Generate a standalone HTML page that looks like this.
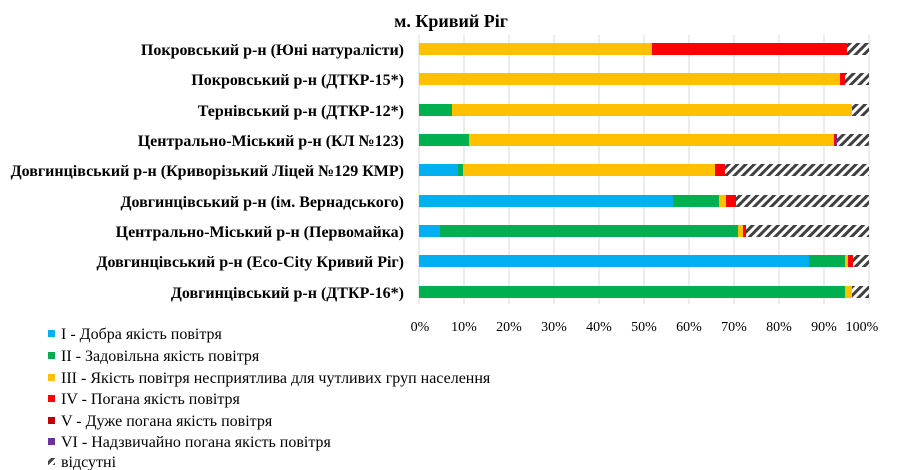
<!DOCTYPE html>
<html><head><meta charset="utf-8"><style>
body{margin:0;background:#fff;}
svg{display:block;font-family:"Liberation Serif","DejaVu Serif",serif;}
</style></head><body>
<svg width="897" height="470" viewBox="0 0 897 470" xmlns="http://www.w3.org/2000/svg">
<defs>
<pattern id="h" patternUnits="userSpaceOnUse" width="6" height="6" patternTransform="rotate(45)">
<rect width="6" height="6" fill="#fff"/><rect width="3" height="6" fill="#404040"/>
</pattern>
</defs>
<rect width="897" height="470" fill="#fff"/>
<text x="451" y="27" text-anchor="middle" font-size="18" font-weight="bold">м. Кривий Ріг</text>
<g stroke="#d9d9d9" stroke-width="1">
<line x1="419" y1="35" x2="419" y2="304"/><line x1="464" y1="35" x2="464" y2="304"/><line x1="509" y1="35" x2="509" y2="304"/><line x1="554" y1="35" x2="554" y2="304"/><line x1="599" y1="35" x2="599" y2="304"/><line x1="644" y1="35" x2="644" y2="304"/><line x1="689" y1="35" x2="689" y2="304"/><line x1="734" y1="35" x2="734" y2="304"/><line x1="779" y1="35" x2="779" y2="304"/><line x1="824" y1="35" x2="824" y2="304"/><line x1="869" y1="35" x2="869" y2="304"/>
</g>
<g>
<rect x="419" y="43" width="233" height="12" fill="#ffc000"/><rect x="652" y="43" width="195" height="12" fill="#ff0000"/><rect x="847" y="43" width="22" height="12" fill="url(#h)"/>
<rect x="419" y="73" width="421" height="12" fill="#ffc000"/><rect x="840" y="73" width="5" height="12" fill="#ff0000"/><rect x="845" y="73" width="24" height="12" fill="url(#h)"/>
<rect x="419" y="104" width="33" height="12" fill="#00b050"/><rect x="452" y="104" width="400" height="12" fill="#ffc000"/><rect x="852" y="104" width="17" height="12" fill="url(#h)"/>
<rect x="419" y="134" width="50" height="12" fill="#00b050"/><rect x="469" y="134" width="365" height="12" fill="#ffc000"/><rect x="834" y="134" width="2" height="12" fill="#ff0000"/><rect x="836" y="134" width="1" height="12" fill="#7030a0"/><rect x="837" y="134" width="32" height="12" fill="url(#h)"/>
<rect x="419" y="164" width="39" height="12" fill="#00b0f0"/><rect x="458" y="164" width="5" height="12" fill="#00b050"/><rect x="463" y="164" width="252" height="12" fill="#ffc000"/><rect x="715" y="164" width="10" height="12" fill="#ff0000"/><rect x="725" y="164" width="144" height="12" fill="url(#h)"/>
<rect x="419" y="195" width="254" height="12" fill="#00b0f0"/><rect x="673" y="195" width="46" height="12" fill="#00b050"/><rect x="719" y="195" width="7" height="12" fill="#ffc000"/><rect x="726" y="195" width="10" height="12" fill="#ff0000"/><rect x="736" y="195" width="133" height="12" fill="url(#h)"/>
<rect x="419" y="225" width="21" height="12" fill="#00b0f0"/><rect x="440" y="225" width="298" height="12" fill="#00b050"/><rect x="738" y="225" width="5" height="12" fill="#ffc000"/><rect x="743" y="225" width="3" height="12" fill="#ff0000"/><rect x="746" y="225" width="123" height="12" fill="url(#h)"/>
<rect x="419" y="255" width="390" height="12" fill="#00b0f0"/><rect x="809" y="255" width="36" height="12" fill="#00b050"/><rect x="845" y="255" width="3" height="12" fill="#ffc000"/><rect x="848" y="255" width="5" height="12" fill="#ff0000"/><rect x="853" y="255" width="16" height="12" fill="url(#h)"/>
<rect x="419" y="286" width="426" height="12" fill="#00b050"/><rect x="845" y="286" width="7" height="12" fill="#ffc000"/><rect x="852" y="286" width="17" height="12" fill="url(#h)"/>
</g>
<g font-size="16" font-weight="bold" text-anchor="end">
<text x="404" y="55">Покровський р-н (Юні натуралісти)</text>
<text x="404" y="85">Покровський р-н (ДТКР-15*)</text>
<text x="404" y="116">Тернівський  р-н (ДТКР-12*)</text>
<text x="404" y="146">Центрально-Міський  р-н (КЛ №123)</text>
<text x="404" y="176">Довгинцівський р-н (Криворізький  Ліцей №129 КМР)</text>
<text x="404" y="207">Довгинцівський р-н (ім. Вернадського)</text>
<text x="404" y="237">Центрально-Міський  р-н (Первомайка)</text>
<text x="404" y="267">Довгинцівський р-н (Eco-City  Кривий Ріг)</text>
<text x="404" y="298">Довгинцівський р-н (ДТКР-16*)</text>
</g>
<g font-size="14" text-anchor="middle">
<text x="420" y="331">0%</text><text x="464" y="331">10%</text><text x="509" y="331">20%</text><text x="554" y="331">30%</text><text x="599" y="331">40%</text><text x="644" y="331">50%</text><text x="689" y="331">60%</text><text x="734" y="331">70%</text><text x="779" y="331">80%</text><text x="824" y="331">90%</text><text x="862" y="331">100%</text>
</g>
<g font-size="16">
<rect x="48" y="330" width="7" height="7" fill="#00b0f0"/><text x="61" y="339">I - Добра якість  повітря</text>
<rect x="48" y="352" width="7" height="7" fill="#00b050"/><text x="61" y="361">II - Задовільна якість  повітря</text>
<rect x="48" y="374" width="7" height="7" fill="#ffc000"/><text x="61" y="383">III - Якість  повітря несприятлива для чутливих груп населення</text>
<rect x="48" y="395" width="7" height="7" fill="#ff0000"/><text x="61" y="404">IV - Погана якість  повітря</text>
<rect x="48" y="417" width="7" height="7" fill="#c00000"/><text x="61" y="426">V - Дуже погана якість  повітря</text>
<rect x="48" y="438" width="7" height="7" fill="#7030a0"/><text x="61" y="447">VI - Надзвичайно погана якість  повітря</text>
<rect x="48" y="458" width="7" height="7" fill="url(#h)"/><text x="61" y="467">відсутні</text>
</g>
</svg>
</body></html>
